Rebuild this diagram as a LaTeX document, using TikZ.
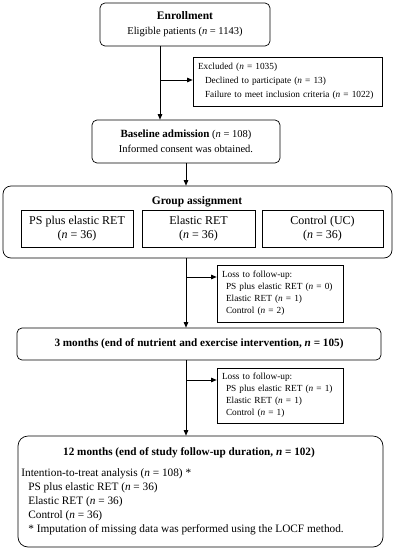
\documentclass[tikz,border=0pt]{standalone}
\usepackage{fontspec}
\setmainfont{Liberation Serif}
\usepackage{tikz}
\usetikzlibrary{arrows.meta, positioning, calc}

\begin{document}
\begin{tikzpicture}[
    x=1pt, y=-1pt,
    every path/.style={line width=0.7pt},
    box/.style={draw, rounded corners=5pt, inner sep=0pt, align=center, font=\fontsize{10.5}{15}\selectfont},
    sidebox/.style={draw, inner xsep=5pt, inner ysep=0pt, align=left, font=\fontsize{9.3}{12}\selectfont},
    groupbox/.style={draw, inner sep=0pt, align=center, font=\fontsize{12}{13.5}\selectfont},
    arrow/.style={-{Triangle[length=5.5pt, width=4.5pt]}},
]
    \useasboundingbox (0,0) rectangle (395,550);

    % Enrollment
    \node[box, minimum width=170, minimum height=43] (enroll) at (185, 24.5)
        {{\fontsize{11.5}{12}\selectfont\textbf{Enrollment}}\\Eligible patients (\textit{n} = 1143)};
    \node[sidebox, minimum width=189, minimum height=49, text width=179pt, font=\fontsize{9.3}{14}\selectfont] (excl) at (287.5, 81.5)
        {Excluded (\textit{n} = 1035)\\
         \hspace*{7pt}Declined to participate (\textit{n} = 13)\\
         \hspace*{7pt}Failure to meet inclusion criteria (\textit{n} = 1022)};

    % Baseline
    \node[box, minimum width=188, minimum height=43] (base) at (186, 141.5)
        {{\fontsize{11}{12}\selectfont\textbf{Baseline admission}} (\textit{n} = 108)\\Informed consent was obtained.};

    % Group assignment
    \node[box, rounded corners=8pt, minimum width=389, minimum height=72] (group) at (197.5, 222) {};
    \node[font=\fontsize{11.5}{12}\selectfont\bfseries] (grouptitle) at (197, 202) {Group assignment};
    \node[groupbox, minimum width=112, minimum height=37] (ps) at (77, 228.5)
        {PS plus elastic RET\\(\textit{n} = 36)};
    \node[groupbox, minimum width=113, minimum height=37] (elastic) at (198.5, 228.5)
        {Elastic RET\\(\textit{n} = 36)};
    \node[groupbox, minimum width=121, minimum height=37] (control) at (322.5, 228.5)
        {Control (UC)\\(\textit{n} = 36)};

    % Losses after assignment
    \node[sidebox, minimum width=126, minimum height=57, text width=116pt] (loss1) at (280, 293.5)
        {Loss to follow-up:\\
         \hspace*{4pt}PS plus elastic RET (\textit{n} = 0)\\
         \hspace*{4pt}Elastic RET (\textit{n} = 1)\\
         \hspace*{4pt}Control (\textit{n} = 2)};

    % 3 months
    \node[box, minimum width=364, minimum height=32, font=\fontsize{11.2}{12}\selectfont\bfseries] (m3) at (199, 344)
        {3 months (end of nutrient and exercise intervention, \textit{n} = 105)};

    \node[sidebox, minimum width=126, minimum height=55, text width=116pt] (loss2) at (280, 395.5)
        {Loss to follow-up:\\
         \hspace*{4pt}PS plus elastic RET (\textit{n} = 1)\\
         \hspace*{4pt}Elastic RET (\textit{n} = 1)\\
         \hspace*{4pt}Control (\textit{n} = 1)};

    % 12 months
    \node[box, rounded corners=10pt, minimum width=365, minimum height=111] (m12) at (200.5, 491.5) {};
    \node[font=\fontsize{11.2}{12}\selectfont\bfseries] (m12title) at (189, 453)
        {12 months (end of study follow-up duration, \textit{n} = 102)};
    \node[anchor=north west, inner sep=0pt, align=left, font=\fontsize{11.3}{14}\selectfont] (itt) at (21, 468)
        {Intention-to-treat analysis (\textit{n} = 108) *\\
         \hspace*{7pt}PS plus elastic RET (\textit{n} = 36)\\
         \hspace*{7pt}Elastic RET (\textit{n} = 36)\\
         \hspace*{7pt}Control (\textit{n} = 36)\\
         \hspace*{7pt}* Imputation of missing data was performed using the LOCF method.};

    % Arrows
    \coordinate (split1) at (160, 80);
    \coordinate (split2) at (186, 277);
    \coordinate (split3) at (186, 380);
    \draw[arrow] (enroll.south -| split1) -- (base.north -| split1);
    \draw[arrow] (split1) -- (excl.west |- split1);
    \draw[arrow] (base.south) -- (group.north -| base);
    \draw[arrow] (group.south -| base) -- (m3.north -| base);
    \draw[arrow] (split2) -- (loss1.west |- split2);
    \draw[arrow] (m3.south -| base) -- (m12.north -| base);
    \draw[arrow] (split3) -- (loss2.west |- split3);

\end{tikzpicture}
\end{document}
